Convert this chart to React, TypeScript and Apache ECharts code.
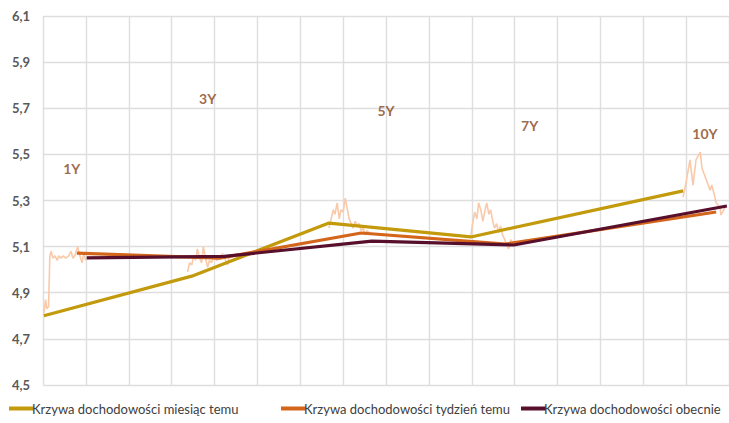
import React, { useEffect, useRef } from "react";
import * as echarts from "echarts";

// Tenor positions on a hidden value x-axis (0..16), yields in %
const monthAgo: [number, number][] = [[0.02, 4.80], [3.47, 4.972], [6.67, 5.202], [9.98, 5.142], [14.93, 5.342]];
const weekAgo: [number, number][] = [[0.79, 5.072], [4.12, 5.05], [7.42, 5.159], [10.79, 5.111], [15.7, 5.25]];
const current: [number, number][] = [[1.02, 5.051], [4.23, 5.058], [7.67, 5.124], [10.98, 5.107], [15.95, 5.276]];

const hist1Y: [number, number][] = [[0.02, 4.81], [0.06, 4.87], [0.09, 4.83], [0.13, 4.84], [0.16, 5.06], [0.19, 5.08], [0.23, 5.05], [0.28, 5.06], [0.33, 5.04], [0.37, 5.06], [0.42, 5.05], [0.47, 5.06], [0.53, 5.05], [0.6, 5.06], [0.65, 5.08], [0.7, 5.05], [0.74, 5.06], [0.81, 5.1], [0.86, 5.06], [0.91, 5.03], [0.95, 5.07], [1.0, 5.04]];
const hist3Y: [number, number][] = [[3.37, 4.99], [3.42, 5.03], [3.47, 5.02], [3.51, 5.06], [3.56, 5.04], [3.6, 5.09], [3.65, 5.05], [3.7, 5.03], [3.74, 5.1], [3.79, 5.05], [3.84, 5.01], [3.88, 5.04], [3.93, 5.03], [3.98, 5.06], [4.05, 5.04], [4.12, 5.05], [4.19, 5.07], [4.26, 5.04], [4.3, 5.02], [4.35, 5.06]];
const hist5Y: [number, number][] = [[6.67, 5.18], [6.72, 5.22], [6.77, 5.26], [6.81, 5.24], [6.86, 5.29], [6.91, 5.22], [6.95, 5.26], [7.0, 5.25], [7.05, 5.31], [7.09, 5.27], [7.14, 5.22], [7.19, 5.2], [7.23, 5.18], [7.28, 5.21], [7.33, 5.19], [7.37, 5.2], [7.42, 5.17], [7.47, 5.18], [7.51, 5.15], [7.56, 5.17], [7.6, 5.16]];
const hist7Y: [number, number][] = [[9.98, 5.15], [10.02, 5.2], [10.07, 5.25], [10.12, 5.22], [10.16, 5.29], [10.21, 5.26], [10.26, 5.21], [10.3, 5.25], [10.35, 5.29], [10.4, 5.24], [10.44, 5.26], [10.49, 5.21], [10.53, 5.18], [10.58, 5.2], [10.63, 5.16], [10.67, 5.19], [10.72, 5.15], [10.77, 5.13], [10.81, 5.11], [10.86, 5.09], [10.91, 5.13], [10.95, 5.12]];
const hist10Y: [number, number][] = [[14.93, 5.315], [15.0, 5.38], [15.09, 5.476], [15.16, 5.367], [15.23, 5.476], [15.33, 5.51], [15.37, 5.44], [15.47, 5.39], [15.56, 5.345], [15.6, 5.367], [15.67, 5.315], [15.7, 5.29], [15.79, 5.27], [15.81, 5.237], [15.91, 5.27]];

const tenorLabels: [number, number, string][] = [[0.67, 5.44, "1Y"], [3.84, 5.744, "3Y"], [8.0, 5.692, "5Y"], [11.35, 5.627, "7Y"], [15.44, 5.592, "10Y"]];

const seriesNames = [
  "Krzywa dochodowości miesiąc temu",
  "Krzywa dochodowości tydzień temu",
  "Krzywa dochodowości obecnie",
];
const colors = ["#C29A0B", "#D4661C", "#580F2C"];
const histColor = "#F9C9A9";
const legendLeft = [4, 276, 516];

export default function App() {
  const ref = useRef<HTMLDivElement>(null);
  useEffect(() => {
    if (!ref.current) return;
    const chart = echarts.init(ref.current, null, { renderer: "svg" });
    const hist = [hist1Y, hist3Y, hist5Y, hist7Y, hist10Y].map((d) => ({
      type: "line",
      data: d,
      showSymbol: false,
      symbol: "none",
      lineStyle: { color: histColor, width: 1.6 },
      z: 1,
      silent: true,
    }));
    const mains = [monthAgo, weekAgo, current].map((d, i) => ({
      name: seriesNames[i],
      type: "line",
      data: d,
      symbol: "none",
      itemStyle: { color: colors[i] },
      lineStyle: { color: colors[i], width: 3.2 },
      z: 2 + i,
    }));
    chart.setOption({
      animation: false,
      textStyle: { fontFamily: "Lato" },
      grid: { left: 43, right: -2, top: 16, bottom: 38, containLabel: false },
      legend: seriesNames.map((n, i) => ({
        bottom: 3,
        left: legendLeft[i],
        data: [n],
        icon: "rect",
        itemWidth: 25,
        itemHeight: 4,
        textStyle: { color: "#404040", fontSize: 13, fontFamily: "Lato", padding: [0, 0, 0, -7] },
      })),
      xAxis: {
        type: "value",
        min: 0,
        max: 16,
        interval: 1,
        axisLine: { show: false },
        axisTick: { show: false },
        axisLabel: { show: false },
        splitLine: { show: true, lineStyle: { color: "#DEDEDE", width: 1.4 } },
      },
      yAxis: {
        type: "value",
        min: 4.5,
        max: 6.1,
        interval: 0.2,
        axisLine: { show: false },
        axisTick: { show: false },
        axisLabel: {
          color: "#595959",
          fontSize: 13,
          fontWeight: "bold",
          margin: 13,
          formatter: (v: number) => v.toFixed(1).replace(".", ","),
        },
        splitLine: { show: true, lineStyle: { color: "#DEDEDE", width: 1.4 } },
      },
      series: [
        ...hist,
        ...mains,
        {
          type: "scatter",
          data: tenorLabels.map((t) => ({ value: [t[0], t[1]], name: t[2] })),
          symbolSize: 0,
          silent: true,
          z: 10,
          label: {
            show: true,
            position: "inside",
            formatter: (p: any) => p.name,
            color: "#86441A",
            fontSize: 14,
            fontWeight: "bold",
            fontFamily: "Lato",
          },
        },
      ],
    });
    return () => chart.dispose();
  }, []);
  return (
    <div
      ref={ref}
      style={{ position: "fixed", left: 0, top: 0, width: 729, height: 423, background: "#fff" }}
    />
  );
}
